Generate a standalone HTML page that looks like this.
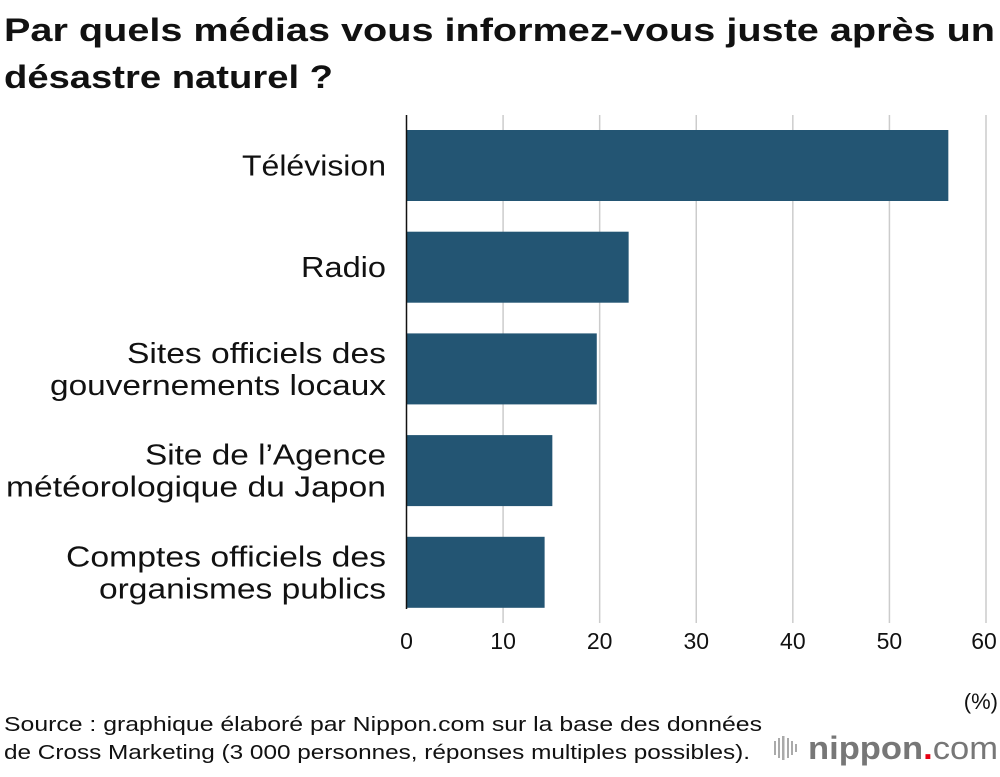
<!DOCTYPE html>
<html><head><meta charset="utf-8"><style>
body{margin:0;width:1000px;height:772px;background:#fff;font-family:"Liberation Sans",sans-serif;overflow:hidden}
</style></head><body>
<svg width="1000" height="772" xmlns="http://www.w3.org/2000/svg">
<text x="4" y="41" font-size="32" font-weight="bold" fill="#111" textLength="991" lengthAdjust="spacingAndGlyphs">Par quels médias vous informez-vous juste après un</text>
<text x="4" y="88" font-size="32" font-weight="bold" fill="#111" textLength="329" lengthAdjust="spacingAndGlyphs">désastre naturel ?</text>
<g id="grid"></g><g id="bars"></g><g id="labels"></g><g id="ticks"></g>
<line x1="406.5" y1="115" x2="406.5" y2="609" stroke="#111" stroke-width="1.5"/>
<text x="998" y="709" font-size="22" text-anchor="end" fill="#111">(%)</text>
<text x="4" y="731" font-size="20" fill="#111" textLength="758" lengthAdjust="spacingAndGlyphs">Source : graphique élaboré par Nippon.com sur la base des données</text>
<text x="4" y="759" font-size="20" fill="#111" textLength="746" lengthAdjust="spacingAndGlyphs">de Cross Marketing (3 000 personnes, réponses multiples possibles).</text>
<g>
<g fill="#aaa"><rect x="774" y="741" width="2" height="14"/><rect x="778" y="738" width="2" height="20"/><rect x="782" y="736" width="2.5" height="24"/><rect x="787" y="738" width="2" height="20"/><rect x="791" y="741" width="2" height="14"/><rect x="795" y="744" width="2" height="8"/></g>
<text x="808" y="759" font-size="32" font-weight="bold" fill="#777" textLength="190" lengthAdjust="spacingAndGlyphs">nippon<tspan fill="#e60012">.</tspan><tspan font-weight="normal">com</tspan></text>
</g>
</svg>
<script>
const categories=[["Télévision"],["Radio"],["Sites officiels des","gouvernements locaux"],["Site de l’Agence","météorologique du Japon"],["Comptes officiels des","organismes publics"]];
const values=[56.1,23.0,19.7,15.1,14.3];
const tickValues=[0,10,20,30,40,50,60];
const labelWidths=[[144],[85],[259,336],[241,380],[320,287]];
const NS="http://www.w3.org/2000/svg";
const x=v=>406.5+v*(986-406.5)/60;
const yTop=i=>130+i*101.7;
const barH=71;
function mk(tag,attrs,parent){const e=document.createElementNS(NS,tag);for(const k in attrs)e.setAttribute(k,attrs[k]);document.getElementById(parent).appendChild(e);return e;}
tickValues.forEach(t=>{
 if(t>0){const l=mk('line',{x1:x(t),x2:x(t),y1:115,y2:623,stroke:'#ccc','stroke-width':1.5},'grid');
 
 }
 const tx=mk('text',{x:t===60?x(t)-2:x(t),y:649,'font-size':23,'text-anchor':'middle',fill:'#111'},'ticks');
 tx.textContent=t;
 
 
});
values.forEach((v,i)=>{
 const r=mk('rect',{x:x(0),y:yTop(i),width:x(v)-x(0),height:barH,fill:'#235573'},'bars');
 
 
 const lines=categories[i];
 const cy=yTop(i)+barH/2;
 lines.forEach((s,j)=>{
  const t=mk('text',{x:386,y:cy+10+(j-(lines.length-1)/2)*32,'font-size':29,'text-anchor':'end',fill:'#111',textLength:labelWidths[i][j],lengthAdjust:'spacingAndGlyphs'},'labels');
  t.textContent=s;
  
  
 });
});
</script>
</body></html>
